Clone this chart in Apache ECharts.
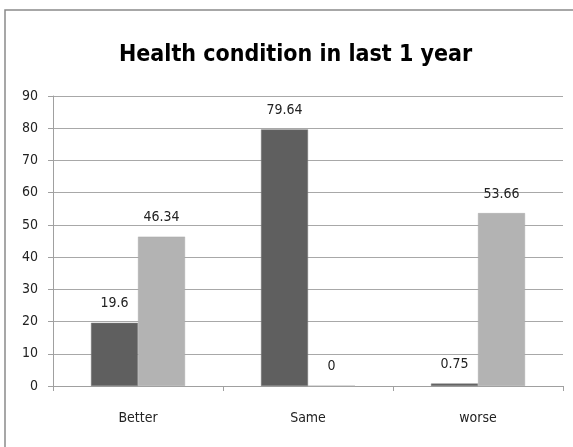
<!DOCTYPE html>
<html>
<head>
<meta charset="utf-8">
<script src="https://cdn.jsdelivr.net/npm/echarts@6/dist/echarts.min.js"></script>
<style>
  html, body { margin: 0; padding: 0; background: #fff; }
  #chart { width: 573px; height: 447px; }
</style>
</head>
<body>
<div id="chart"></div>
<script>
// Health condition over the last year, two response groups per category
const categories = ['Better', 'Same', 'worse'];
const seriesDark = [19.6, 79.64, 0.75];
const seriesLight = [46.34, 0, 53.66];
const yTicks = { min: 0, max: 90, interval: 10 };

const titleFont = '"Liberation Sans Narrow", "DejaVu Sans Condensed", sans-serif';
const textFont = '"DejaVu Sans Condensed", "Liberation Sans Narrow", sans-serif';

const chart = echarts.init(document.getElementById('chart'));

const labelStyle = {
  show: true,
  position: 'top',
  distance: 12,
  color: '#222',
  fontSize: 14,
  fontFamily: textFont
};

chart.setOption({
  backgroundColor: '#ffffff',
  animation: false,
  title: {
    text: 'Health condition in last 1 year',
    left: 114,
    top: 39,
    textStyle: {
      fontFamily: titleFont,
      fontWeight: 'bold',
      fontSize: 23,
      color: '#000'
    }
  },
  graphic: [{
    type: 'rect',
    shape: { x: 5, y: 10, width: 600, height: 480 },
    style: { fill: 'none', stroke: '#8a8a8a', lineWidth: 1.5 },
    silent: true,
    z: -1
  }],
  grid: { left: 53, right: 10, top: 96, bottom: 61 },
  xAxis: {
    type: 'category',
    data: categories,
    axisLine: { lineStyle: { color: '#a0a0a0' } },
    axisTick: { show: true, alignWithLabel: false, length: 5, lineStyle: { color: '#a0a0a0' } },
    axisLabel: { color: '#222', fontSize: 14, fontFamily: textFont, margin: 25 }
  },
  yAxis: {
    type: 'value',
    min: yTicks.min,
    max: yTicks.max,
    interval: yTicks.interval,
    axisLine: { show: true, lineStyle: { color: '#a0a0a0' } },
    axisTick: { show: true, length: 5, lineStyle: { color: '#a0a0a0' } },
    axisLabel: { color: '#222', fontSize: 14, fontFamily: textFont, margin: 15 },
    splitLine: { show: true, lineStyle: { color: '#a8a8a8', width: 1 } }
  },
  series: [
    {
      type: 'bar',
      data: seriesDark,
      barWidth: 47,
      barGap: '0%',
      itemStyle: { color: '#5f5f5f', borderColor: '#7a7a7a', borderWidth: 0.5 },
      label: labelStyle
    },
    {
      type: 'bar',
      data: seriesLight,
      barWidth: 47,
      itemStyle: { color: '#b3b3b3', borderColor: '#a8a8a8', borderWidth: 0.5 },
      label: labelStyle
    }
  ]
});
</script>
</body>
</html>
